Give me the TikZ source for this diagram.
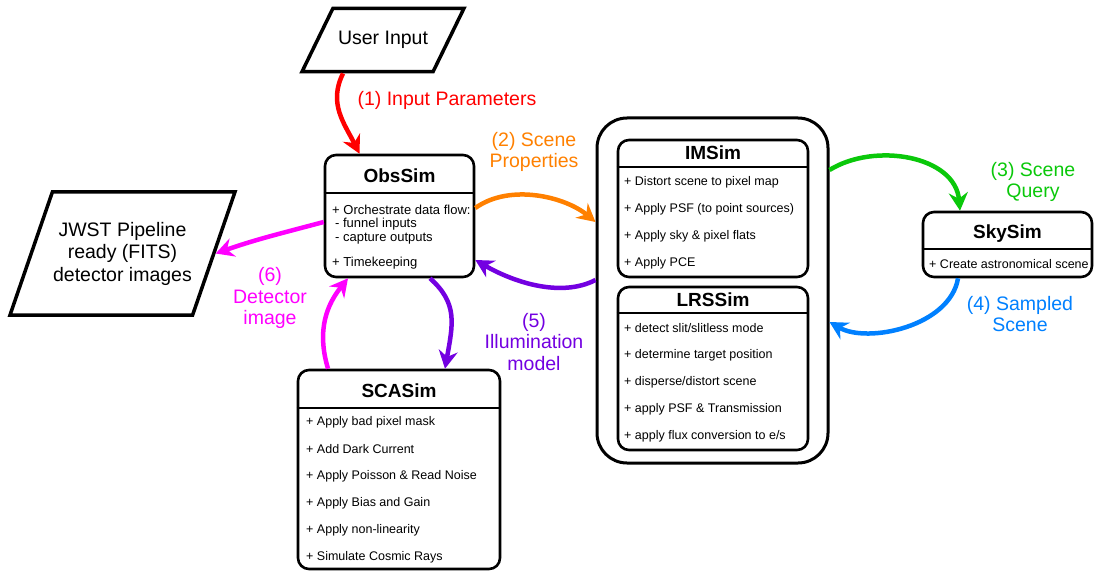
\documentclass[tikz,border=0pt]{standalone}
\usepackage{fontspec}
\setmainfont{Liberation Sans}
\usetikzlibrary{shapes.geometric}
\usetikzlibrary{arrows.meta}

\definecolor{flowred}{RGB}{255,0,0}
\definecolor{floworange}{RGB}{255,128,0}
\definecolor{flowgreen}{RGB}{10,200,10}
\definecolor{flowblue}{RGB}{0,128,255}
\definecolor{flowpurple}{RGB}{115,0,225}
\definecolor{flowmagenta}{RGB}{255,0,255}

\tikzset{
  simbox/.style={draw, line width=2.6pt, rounded corners=11pt},
  iobox/.style={draw, line width=3.5pt, trapezium, trapezium stretches body=true,
    align=center, inner xsep=0pt, font=\fontsize{19.5}{22.5}\selectfont},
  simtitle/.style={font=\bfseries\fontsize{19}{20}\selectfont},
  simitem/.style={anchor=west, inner sep=0pt, font=\fontsize{12.5}{14}\selectfont},
  flow/.style={line width=4.5pt, -{Stealth[length=18pt,width=19pt,inset=6pt]}},
  flowlabel/.style={align=center, font=\fontsize{19.5}{21.5}\selectfont},
}

\begin{document}
\begin{tikzpicture}[x=1pt,y=-1pt]
    \useasboundingbox (0,0) rectangle (1094,572);

    % inputs and outputs
    \node[iobox, trapezium left angle=64, trapezium right angle=116,
      inner ysep=23pt, minimum width=162pt] (user) at (383,40) {User Input};
    \node[iobox, trapezium left angle=71, trapezium right angle=109,
      inner ysep=30pt, minimum width=225pt] (jwst) at (122.5,253.5)
      {JWST Pipeline\\ready (FITS)\\detector images};

    % ObsSim
    \node[simbox, minimum width=149pt, minimum height=122pt] (obs) at (399.5,216) {};
    \node[simtitle] (obs-title) at (399.5,176) {ObsSim};
    \draw[line width=2.6pt] (obs.west |- 0,193) -- (obs.east |- 0,193);
    \node[simitem, font=\fontsize{13}{15}\selectfont] (obs-1) at (332,210) {+ Orchestrate data flow:};
    \node[simitem, font=\fontsize{13}{15}\selectfont] (obs-2) at (335,224) {- funnel inputs};
    \node[simitem, font=\fontsize{13}{15}\selectfont] (obs-3) at (335,239) {- capture outputs};
    \node[simitem, font=\fontsize{13}{15}\selectfont] (obs-4) at (332,263) {+ Timekeeping};

    % instrument group
    \node[simbox, rounded corners=30pt, line width=3pt,
      minimum width=231pt, minimum height=345pt] (instr) at (712.5,290.5) {};

    \node[simbox, minimum width=190pt, minimum height=137pt] (ims) at (713,208.5) {};
    \node[simtitle] (ims-title) at (713,153) {IMSim};
    \draw[line width=2.6pt] (ims.west |- 0,167) -- (ims.east |- 0,167);
    \foreach \t [count=\i] in {+ Distort scene to pixel map,
        + Apply PSF (to point sources), {+ Apply sky \& pixel flats}, + Apply PCE}
      \node[simitem] (ims-\i) at (624,155+27*\i) {\t};

    \node[simbox, minimum width=190pt, minimum height=163pt] (lrs) at (713,368.5) {};
    \node[simtitle] (lrs-title) at (713,300) {LRSSim};
    \draw[line width=2.6pt] (lrs.west |- 0,313) -- (lrs.east |- 0,313);
    \foreach \t [count=\i] in {+ detect slit/slitless mode, + determine target position,
        + disperse/distort scene, {+ apply PSF \& Transmission},
        + apply flux conversion to e/s}
      \node[simitem] (lrs-\i) at (624,301+27*\i) {\t};

    % SkySim
    \node[simbox, minimum width=169pt, minimum height=65pt] (sky) at (1007.5,244.5) {};
    \node[simtitle] (sky-title) at (1007.5,234) {SkySim};
    \draw[line width=2.6pt] (sky.west |- 0,249) -- (sky.east |- 0,249);
    \node[simitem] (sky-1) at (929,264) {+ Create astronomical scene};

    % SCASim
    \node[simbox, minimum width=202pt, minimum height=199pt] (sca) at (399,469.5) {};
    \node[simtitle] (sca-title) at (399,391) {SCASim};
    \draw[line width=2.6pt] (sca.west |- 0,408) -- (sca.east |- 0,408);
    \foreach \t [count=\i] in {+ Apply bad pixel mask, + Add Dark Current,
        {+ Apply Poisson \& Read Noise}, + Apply Bias and Gain,
        + Apply non-linearity, + Simulate Cosmic Rays}
      \node[simitem] (sca-\i) at (306,395+27*\i) {\t};

    % data flow
    \draw[flow, flowred] ([xshift=-40pt]user.south) .. controls +(-15,30) and +(-15,-30) .. ([xshift=-40pt]obs.north);
    \draw[flow, floworange] (obs.east |- 0,208) .. controls +(35,-25) and +(-30,-25) .. (instr.west |- 0,222);
    \draw[flow, flowgreen] (instr.east |- 0,170) .. controls +(45,-28) and +(-5,-55) .. (sky.north -| 960,0);
    \draw[flow, flowblue] (sky.south -| 958,0) .. controls +(-8,48) and +(38,22) .. (instr.east |- 0,322);
    \draw[flow, flowpurple] (instr.west |- 0,280) .. controls +(-35,18) and +(38,22) .. (obs.east |- 0,260);
    \draw[flow, flowpurple] (obs.south -| 430,0) .. controls +(28,25) and +(8,-45) .. (sca.north -| 445,0);
    \draw[flow, flowmagenta] (obs.west |- 0,222) .. controls +(-45,12) and +(40,-14) .. (jwst.east);
    \draw[flow, flowmagenta] (sca.north -| 328,0) .. controls +(-12,-40) and +(-20,25) .. (obs.south -| 348,0);

    % labels
    \node[flowlabel, text=flowred, anchor=west] (lab1) at (354,100) {(1) Input Parameters};
    \node[flowlabel, text=floworange] (lab2) at (534,152) {(2) Scene\\Properties};
    \node[flowlabel, text=flowgreen] (lab3) at (1033,182) {(3) Scene\\Query};
    \node[flowlabel, text=flowblue] (lab4) at (1020,314) {(4) Sampled\\Scene};
    \node[flowlabel, text=flowpurple] (lab5) at (534,342) {(5)\\Illumination\\model};
    \node[flowlabel, text=flowmagenta] (lab6) at (270,298) {(6)\\Detector\\image};
\end{tikzpicture}
\end{document}
